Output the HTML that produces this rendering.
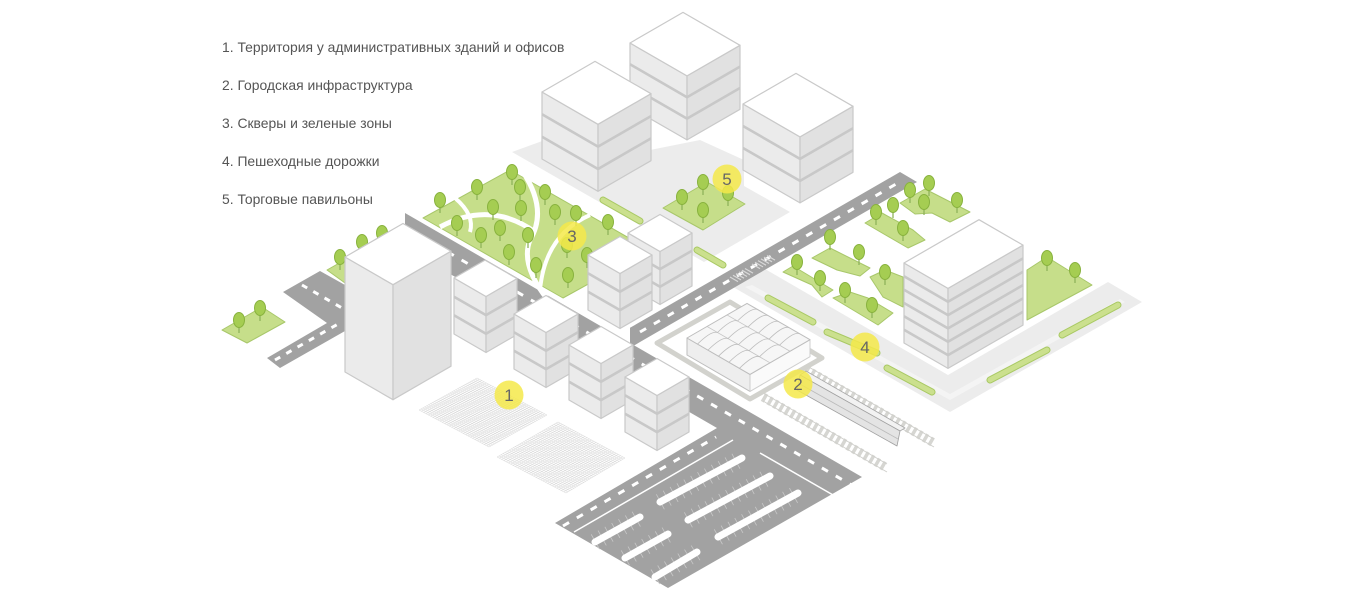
<!DOCTYPE html>
<html><head><meta charset="utf-8"><style>
html,body{margin:0;padding:0;background:#fff;width:1348px;height:594px;overflow:hidden}
svg{display:block}
text{font-family:"Liberation Sans",sans-serif}
</style></head><body>
<svg id="s" width="1348" height="594" viewBox="0 0 1348 594" xmlns="http://www.w3.org/2000/svg">
<g id="g"></g>
<g font-size="13.9" fill="#555">
<text x="222" y="52">1. Территория у административных зданий и офисов</text>
<text x="222" y="90">2. Городская инфраструктура</text>
<text x="222" y="128">3. Скверы и зеленые зоны</text>
<text x="222" y="166">4. Пешеходные дорожки</text>
<text x="222" y="204">5. Торговые павильоны</text>
</g>
<g id="num" font-size="17" fill="#666" text-anchor="middle">
<text x="509" y="401">1</text>
<text x="798" y="390">2</text>
<text x="572" y="242">3</text>
<text x="865" y="353">4</text>
<text x="727" y="185">5</text>
</g>
</svg>
<script>
var S=0.577,g=document.getElementById('g'),NS='http://www.w3.org/2000/svg';
function el(t,a,p){var e=document.createElementNS(NS,t);for(var k in a)e.setAttribute(k,a[k]);(p||g).appendChild(e);return e}
function pts(a){return a.map(function(p){return p[0].toFixed(1)+','+p[1].toFixed(1)}).join(' ')}
function poly(a,f,st,sw){return el('polygon',{points:pts(a),fill:f,stroke:st||'none','stroke-width':sw||1,'stroke-linejoin':'round'})}
function line(a,b,c,w,da,cap){var o={x1:a[0],y1:a[1],x2:b[0],y2:b[1],stroke:c,'stroke-width':w};if(da)o['stroke-dasharray']=da;if(cap)o['stroke-linecap']=cap;return el('line',o)}
function box(L,a,b,h,n){var F=[L[0]+a,L[1]+a*S],T=[L[0]+b,L[1]-b*S],R=[F[0]+b,F[1]-b*S];
 poly([L,F,[F[0],F[1]+h],[L[0],L[1]+h]],'#ebebeb','#c9c9c9',1.2);
 poly([F,R,[R[0],R[1]+h],[F[0],F[1]+h]],'#e1e1e1','#c9c9c9',1.2);
 for(var i=1;i<n;i++){var y=h*i/n;el('polyline',{points:pts([[L[0],L[1]+y],[F[0],F[1]+y],[R[0],R[1]+y]]),fill:'none',stroke:'#c8c8c8','stroke-width':2.6})}
 poly([L,T,R,F],'#fff','#c9c9c9',1.2);}
function tree(x,y){line([x,y+2],[x,y+13],'#8fb35a',1.3);el('ellipse',{cx:x,cy:y,rx:5.5,ry:7.5,fill:'#a5cd52',stroke:'#88b23e','stroke-width':1})}
function strip(a,b){line(a,b,'#a9c964',7,null,'round');line(a,b,'#cbe08e',5,null,'round')}
function circ(x,y){el('circle',{cx:x,cy:y,r:14.5,fill:'#f4e94a','fill-opacity':0.85})}
function grid(L,T,R,B,n){poly([L,T,R,B],'#fcfcfc');for(var i=0;i<=n;i++){var t=i/n;
 line([L[0]+(B[0]-L[0])*t,L[1]+(B[1]-L[1])*t],[T[0]+(R[0]-T[0])*t,T[1]+(R[1]-T[1])*t],'#d6d6d6',0.5);
 line([L[0]+(T[0]-L[0])*t,L[1]+(T[1]-L[1])*t],[B[0]+(R[0]-B[0])*t,B[1]+(R[1]-B[1])*t],'#d6d6d6',0.5);}}

/* pavements */
poly([[512,152],[704,262],[790,212],[744,186],[744,160],[700,140],[650,150],[545,140]],'#ececec');
var oc=[950,412],ic=[948,375];
poly([[733,287],oc,[1142,302],[1108,282],ic,[765,269]],'#ececec');
poly([[745,287],[950,400],[1125,302],[1120,299],[950,394],[752,285]],'#f4f4f4');
poly([[620,352],[733,287],[765,269],[690,313]],'#ececec');

/* roads */
var RG='#a2a2a2';
poly([[405,213],[862,477],[668,588],[555,523],[717,428],[405,248]],RG);
line([420,236],[855,487],'#fff',3,'7 9');
line([563,526],[716,437],'#fff',3,'7 9');
line([574,532],[733,440],'#fff',1.5);
line([760,453],[840,499],'#fff',1.5);
poly([[630,327.8],[900,172],[917,182],[640,342],[630,348]],RG);
line([640,332],[903,180],'#fff',3,'7 9');
for(var k=0;k<2;k++){var cx=k?752:730,cy=k?264:277;for(var j=0;j<6;j++){line([cx+j*3,cy-j*1.7],[cx+j*3+8,cy-j*1.7+4.6],'#d8d8d8',1.2)}}
/* left road */
poly([[283,292],[320,271],[345,285],[345,331],[280,368],[267,358],[327,323]],RG);
line([302,285],[342,308],'#fff',3,'6 7');line([275,360],[338,324],'#fff',3,'6 7');

/* parking bars */
[[[660,502],[742,458]],[[688,520],[770,476]],[[718,537],[798,493]],[[595,542],[640,517]],[[625,558],[668,534]],[[655,577],[697,552]]].forEach(function(b){
 line(b[0],b[1],'#c8c8c8',17,'0.8 7');line(b[0],b[1],'#fff',7,null,'round');});

/* green areas */
var GR='#c6de8a',GS='#a8c76a';
poly([[222,330],[262,307],[285,322],[247,343]],GR,GS);
poly([[327,270],[380,240],[400,252],[345,283]],GR,GS);
poly([[423,218],[510,170],[650,250],[563,298]],GR,GS);
el('path',{d:'M440,227 Q490,200 535,232',fill:'none',stroke:'#fff','stroke-width':5});
el('path',{d:'M523,172 Q548,210 530,240 Q520,265 548,300',fill:'none',stroke:'#fff','stroke-width':5});
el('path',{d:'M590,215 Q545,235 540,290',fill:'none',stroke:'#fff','stroke-width':4});
el('path',{d:'M455,198 Q475,215 470,232',fill:'none',stroke:'#fff','stroke-width':4});
poly([[663,208],[707,182],[745,204],[703,230]],GR,GS);
poly([[900,203],[925,189],[970,212],[950,222],[932,213],[915,214]],GR,GS);
poly([[865,223],[882,213],[913,230],[925,240],[908,248]],GR,GS);
poly([[812,258],[830,248],[870,268],[860,276],[837,270]],GR,GS);
poly([[783,272],[793,266],[833,290],[822,297],[812,285]],GR,GS);
poly([[833,298],[850,292],[868,298],[893,313],[878,325]],GR,GS);
poly([[870,277],[885,270],[903,277],[903,307],[883,297]],GR,GS);
poly([[1027,270],[1047,257],[1092,285],[1027,320]],GR,GS);
strip([603,200],[640,221]);strip([697,250],[723,265]);
strip([768,298],[813,322]);strip([827,332],[877,353]);strip([887,368],[932,392]);strip([990,380],[1047,350]);strip([1062,335],[1118,305]);

/* paving grids */
grid([419,410],[477,378],[547,415],[489,447],30);
grid([497,457],[558,422],[625,458],[566,493],30);

/* tracks */
function track(a,b){line(a,b,'#d6d6d2',9,'3.5 3');line([a[0],a[1]-4],[b[0],b[1]-4],'#cfcfcb',1);line([a[0],a[1]+4],[b[0],b[1]+4],'#cfcfcb',1)}
track([800,366],[934,443]);track([763,397],[887,468]);

/* station */
poly([[657,343],[730,302],[822,358],[750,399]],'#fff','#d2d2cd',5);
(function(){var L=[687,338],a=63,b=60,h=17;var F=[L[0]+a,L[1]+a*S],T=[L[0]+b,L[1]-b*S],R=[F[0]+b,F[1]-b*S];
poly([L,F,[F[0],F[1]+h],[L[0],L[1]+h]],'#eeeeee','#bdbdbd',1);
poly([F,R,[R[0],R[1]+h],[F[0],F[1]+h]],'#fafafa','#cfcfcf',1);
poly([L,T,R,F],'#f6f6f6','#bdbdbd',1);
for(var i=1;i<3;i++){var t=i/3;line([L[0]+b*t,L[1]-b*S*t],[F[0]+b*t,F[1]-b*S*t],'#c4c4c4',0.8)}
for(var i=1;i<6;i++){var t=i/6;for(var j=0;j<3;j++){var x0=L[0]+a*t+b*j/3,y0=L[1]+a*S*t-b*S*j/3,x1=x0+b/3,y1=y0-b*S/3;
el('path',{d:'M'+x0+','+y0+' Q'+((x0+x1)/2+4)+','+((y0+y1)/2-8)+' '+x1+','+y1,fill:'none',stroke:'#bdbdbd','stroke-width':0.8})}}})();

/* trees */
[[239,320],[260,308],[340,257],[362,242],[382,233],
[440,200],[477,187],[512,172],[520,187],[493,207],[521,208],[545,192],[555,212],[576,213],[608,222],[457,223],[481,235],[500,228],[528,235],[509,252],[536,265],[567,245],[568,275],[587,255],
[682,197],[703,182],[728,193],[703,210],
[910,190],[929,183],[924,202],[957,200],[876,212],[893,205],[903,228],[830,237],[859,252],[797,262],[820,278],[845,290],[872,305],[885,272],[1047,258],[1075,270]
].forEach(function(p){tree(p[0],p[1])});

/* buildings */
box([630,43],57,53,64,3);
box([542,92],56,53,67,3);
box([743,104],57,53,66,3);
box([628,233],32,32,53,3);
box([588,255],32,32,55,3);
box([904,263],44,75,80,6);
box([345,257],48,58,115,1);
box([454,278],32,31,56,3);
box([514,314],32,32,55,3);
box([569,345],32,32,55,3);
box([625,377],32,32,55,3);

/* train */
poly([[800,375],[806,371],[905,428],[900,431]],'#f2f2f2','#a8a8a8',0.8);
poly([[800,375],[900,431],[897,446],[797,390]],'#e4e4e4','#a0a0a0',0.8);
line([798,383],[898,439],'#bbb',0.8);

[[509,395],[798,384],[572,236],[865,347],[727,179]].forEach(function(p){circ(p[0],p[1])});
var s=document.getElementById('s');s.appendChild(document.getElementById('num'));
</script>
</body></html>
